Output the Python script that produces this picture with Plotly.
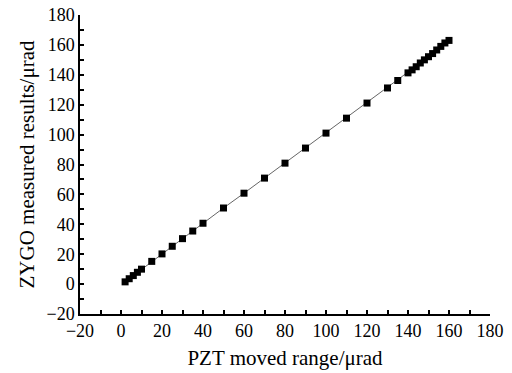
import plotly.graph_objects as go

pzt_range = [2, 4, 6, 8, 10, 15, 20, 25, 30, 35, 40, 50, 60, 70, 80, 90, 100,
             110, 120, 130, 135, 140, 142, 144, 146, 148, 150, 152, 154, 156, 158, 160]
zygo_measured = [1.5, 3.6, 5.7, 7.9, 10.0, 15.2, 20.2, 25.3, 30.4, 35.5, 40.7, 50.9,
                 60.8, 70.9, 80.9, 91.0, 101.0, 111.0, 121.1, 131.2, 136.2, 141.3,
                 143.3, 145.4, 147.9, 150.0, 152.1, 154.2, 156.6, 159.0, 161.3, 163.0]

tick_values = [-20, -10, 0, 10, 20, 30, 40, 50, 60, 70, 80, 90, 100,
               110, 120, 130, 140, 150, 160, 170, 180]
tick_labels = ["\u221220", "", "0", "", "20", "", "40", "", "60", "", "80", "", "100",
               "", "120", "", "140", "", "160", "", "180"]

tick_font = dict(family="Liberation Serif, Times New Roman, serif", size=18, color="black")
title_font = dict(family="Liberation Serif, Times New Roman, serif", size=21, color="black")

fig = go.Figure()
fig.add_trace(go.Scatter(
    x=pzt_range, y=zygo_measured, mode="lines+markers",
    line=dict(color="#666666", width=1),
    marker=dict(symbol="square", size=7, color="black"),
    showlegend=False,
))

axis_common = dict(
    range=[tick_values[0], tick_values[-1]], tickmode="array",
    tickvals=tick_values, ticktext=tick_labels,
    showline=True, linecolor="black", linewidth=1.5, mirror=False,
    ticks="inside", ticklen=4, tickcolor="black", tickwidth=1.5,
    showgrid=False, zeroline=False, tickfont=tick_font, ticklabeloverflow="allow",
)

fig.update_layout(
    template="none",
    width=504, height=365,
    margin=dict(l=72, r=22, t=7, b=59),
    paper_bgcolor="white", plot_bgcolor="white",
    font=tick_font,
    xaxis=dict(title=dict(text="PZT moved range/\u03bcrad", font=title_font, standoff=10),
               **axis_common),
    yaxis=dict(title=dict(text="ZYGO measured results/\u03bcrad", font=title_font, standoff=6),
               **axis_common),
)

fig.write_html("out.html")
